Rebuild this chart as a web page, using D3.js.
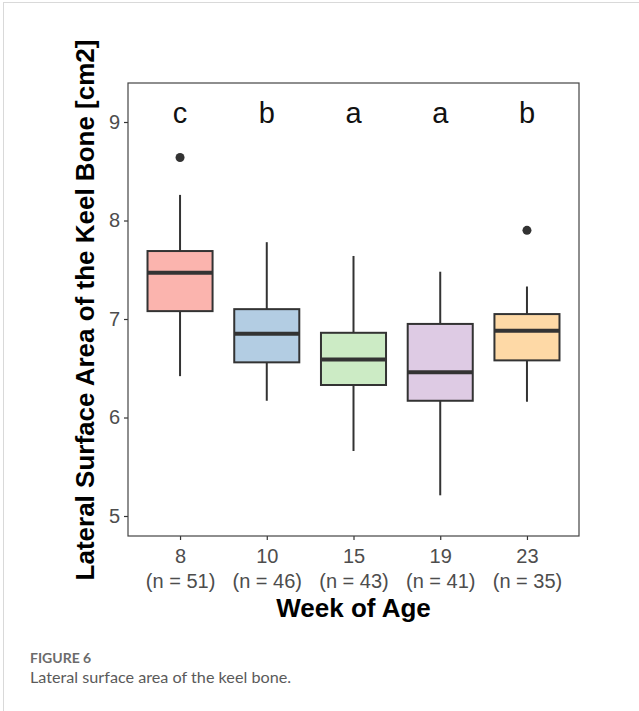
<!DOCTYPE html>
<html>
<head>
<meta charset="utf-8">
<script src="https://cdn.jsdelivr.net/npm/d3@7"></script>
<style>
  body { margin: 0; background: #fff; }
  .frame { position: absolute; left: 3px; top: 2px; width: 640px; height: 720px;
           border-left: 1px solid #d9d9d9; border-top: 1px solid #d9d9d9; }
  .caption { position: absolute; left: 30px; top: 649px; font-family: Lato, "Open Sans", sans-serif; }
  .caption .fig { font-size: 14px; color: #6b6b6b; font-weight: bold; }
  .caption .txt { font-size: 16.2px; color: #5a5a5a; margin-top: 1px; }
</style>
</head>
<body>
<div class="frame"></div>
<svg id="chart" width="639" height="640" style="position:absolute;left:0;top:0"></svg>
<div class="caption">
  <div class="fig">FIGURE 6</div>
  <div class="txt">Lateral surface area of the keel bone.</div>
</div>
<script>
// box plot summaries
var weeks = ['8', '10', '15', '19', '23'];
var nLabels = ['(n = 51)', '(n = 46)', '(n = 43)', '(n = 41)', '(n = 35)'];
var lowerWhisker = [6.42, 6.17, 5.66, 5.21, 6.16];
var q1 = [7.08, 6.56, 6.33, 6.17, 6.58];
var median = [7.47, 6.85, 6.59, 6.46, 6.88];
var q3 = [7.69, 7.10, 6.86, 6.95, 7.05];
var upperWhisker = [8.26, 7.78, 7.64, 7.48, 7.33];
var outliers = [[8.64], [], [], [], [7.90]];
var letters = ['c', 'b', 'a', 'a', 'b'];
var fills = ['#FBB4AE', '#B3CDE3', '#CCEBC5', '#DECBE4', '#FED9A6'];
var yTicks = [5, 6, 7, 8, 9];

var data = weeks.map(function(w, i) {
  return {week: w, n: nLabels[i], lo: lowerWhisker[i], q1: q1[i], med: median[i],
          q3: q3[i], hi: upperWhisker[i], out: outliers[i], letter: letters[i], fill: fills[i]};
});

var svg = d3.select('#chart');
var margin = {left: 128, top: 83, right: 60, bottom: 104};
var width = 639 - margin.left - margin.right,
    height = 640 - margin.top - margin.bottom;

var g = svg.append('g')
  .attr('transform', 'translate(' + margin.left + ',' + margin.top + ')');

var y = d3.scaleLinear().domain([4.797, 9.396]).range([height, 0]);
var x = d3.scalePoint().domain(weeks).range([0, width]).padding(0.6);
var boxW = 0.75 * x.step();

// axes
var axY = g.append('g').call(d3.axisLeft(y).tickValues(yTicks).tickFormat(d3.format('d')).tickSize(4).tickPadding(4));
var axX = g.append('g').attr('transform', 'translate(0,' + height + ')')
  .call(d3.axisBottom(x).tickSize(4).tickPadding(9));
[axY, axX].forEach(function(a) {
  a.select('.domain').remove();
  a.selectAll('line').attr('stroke', '#333').attr('stroke-width', 1.2);
  a.selectAll('text').attr('fill', '#4d4d4d').style('font-family', 'Liberation Sans, Arial, sans-serif').style('font-size', '20px');
});
axX.selectAll('.tick text').each(function(d, i) {
  d3.select(this).append('tspan').attr('x', 0).attr('dy', '1.22em').text(nLabels[i]);
});

// panel border
g.append('rect').attr('width', width).attr('height', height)
  .attr('fill', 'none').attr('stroke', '#444').attr('stroke-width', 1.2);

var boxes = g.selectAll('.box').data(data).enter().append('g').attr('class', 'box')
  .attr('transform', function(d) { return 'translate(' + x(d.week) + ',0)'; });

boxes.append('line').attr('x1', 0).attr('x2', 0)
  .attr('y1', function(d) { return y(d.lo); }).attr('y2', function(d) { return y(d.q1); })
  .attr('stroke', '#333').attr('stroke-width', 2);
boxes.append('line').attr('x1', 0).attr('x2', 0)
  .attr('y1', function(d) { return y(d.q3); }).attr('y2', function(d) { return y(d.hi); })
  .attr('stroke', '#333').attr('stroke-width', 2);
boxes.append('rect')
  .attr('x', -boxW / 2).attr('width', boxW)
  .attr('y', function(d) { return y(d.q3); })
  .attr('height', function(d) { return y(d.q1) - y(d.q3); })
  .attr('fill', function(d) { return d.fill; })
  .attr('stroke', '#333').attr('stroke-width', 2);
boxes.append('line').attr('x1', -boxW / 2).attr('x2', boxW / 2)
  .attr('y1', function(d) { return y(d.med); }).attr('y2', function(d) { return y(d.med); })
  .attr('stroke', '#333').attr('stroke-width', 4);
boxes.selectAll('.out').data(function(d) { return d.out; }).enter().append('circle')
  .attr('cx', 0).attr('cy', function(v) { return y(v); }).attr('r', 4.5).attr('fill', '#333');
boxes.append('text')
  .attr('y', y(8.99)).attr('text-anchor', 'middle')
  .style('font-family', 'Liberation Sans, Arial, sans-serif').style('font-size', '29px')
  .attr('fill', '#111')
  .text(function(d) { return d.letter; });

// axis titles
svg.append('text')
  .attr('x', margin.left + width / 2).attr('y', 617)
  .attr('text-anchor', 'middle')
  .style('font-family', 'Liberation Sans, Arial, sans-serif').style('font-size', '26px').style('font-weight', 'bold')
  .text('Week of Age');
svg.append('text')
  .attr('transform', 'translate(94,310) rotate(-90)')
  .attr('text-anchor', 'middle')
  .style('font-family', 'Liberation Sans, Arial, sans-serif').style('font-size', '26px').style('font-weight', 'bold')
  .text('Lateral Surface Area of the Keel Bone [cm2]');
</script>
</body>
</html>
